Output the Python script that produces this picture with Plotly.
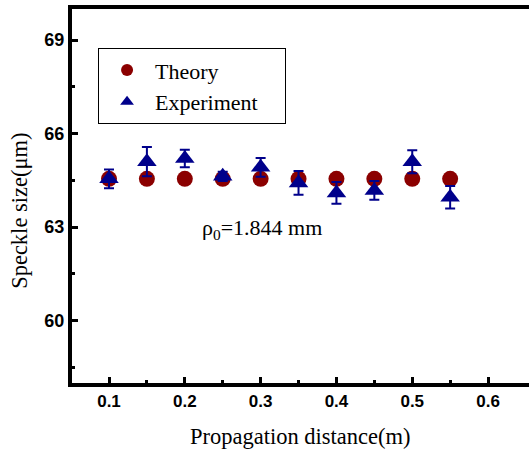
import plotly.graph_objects as go

distance = [0.10, 0.15, 0.20, 0.25, 0.30, 0.35, 0.40, 0.45, 0.50, 0.55]
theory = [64.55, 64.55, 64.55, 64.55, 64.55, 64.55, 64.55, 64.55, 64.55, 64.55]
experiment = [64.55, 65.10, 65.20, 64.63, 64.92, 64.42, 64.10, 64.18, 65.10, 63.96]
exp_err = [0.30, 0.47, 0.28, 0.15, 0.30, 0.38, 0.35, 0.30, 0.37, 0.36]

x_ticks = [0.1, 0.2, 0.3, 0.4, 0.5, 0.6]
x_minor = [0.15, 0.25, 0.35, 0.45, 0.55]
y_ticks = [60, 63, 66, 69]
y_minor = [58.5, 61.5, 64.5, 67.5]

serif = "Liberation Serif, Times New Roman, serif"
sans = "Liberation Sans, Arial, sans-serif"

fig = go.Figure()
fig.add_trace(go.Scatter(
    x=distance, y=theory, mode="markers", name="Theory",
    marker=dict(symbol="circle", size=16, color="#8B0000"),
))
fig.add_trace(go.Scatter(
    x=distance, y=experiment, mode="markers", name="Experiment\u00a0\u00a0\u00a0\u00a0",
    marker=dict(symbol="triangle-up", size=17, color="#00008B"),
    error_y=dict(type="data", array=exp_err, color="#00008B", thickness=2, width=5),
))

fig.add_annotation(
    x=0.22, y=62.93, xref="x", yref="y", xanchor="left", yanchor="middle",
    text="ρ<sub>0</sub>=1.844 mm", showarrow=False,
    font=dict(family=serif, size=22, color="black"),
)
fig.add_annotation(
    x=0.5, y=-0.144, xref="paper", yref="paper", xanchor="center", yanchor="middle",
    text="Propagation distance(m)", showarrow=False,
    font=dict(family=serif, size=22.5, color="black"),
)
fig.add_annotation(
    x=-0.114, y=0.46, xref="paper", yref="paper", xanchor="center", yanchor="middle",
    text="Speckle size(μm)", showarrow=False, textangle=-90,
    font=dict(family=serif, size=22.5, color="black"),
)

fig.add_shape(
    type="rect", xref="paper", yref="paper", x0=0.996, x1=1.02, y0=0.005, y1=0.985,
    fillcolor="white", line=dict(width=0), layer="above",
)

fig.update_layout(
    width=529, height=450,
    margin=dict(l=72, r=0, t=9, b=67),
    paper_bgcolor="white", plot_bgcolor="white",
    showlegend=True,
    legend=dict(
        x=0.057, y=0.895, xanchor="left", yanchor="top",
        bordercolor="black", borderwidth=1, bgcolor="white",
        font=dict(family=serif, size=22, color="black"),
        itemsizing="constant", itemwidth=46, tracegroupgap=0,
    ),
    xaxis=dict(
        range=[0.0512, 0.654], tickvals=x_ticks, ticktext=[f"{v:.1f}" for v in x_ticks],
        ticks="inside", ticklen=6, tickwidth=3, tickcolor="black",
        minor=dict(tickvals=x_minor, ticks="inside", ticklen=3, tickwidth=3, tickcolor="black"),
        showline=True, linewidth=4, linecolor="black", mirror=True,
        showgrid=False, zeroline=False,
        tickfont=dict(family=sans, size=17, color="black", weight="bold"),
    ),
    yaxis=dict(
        range=[58, 70], tickvals=y_ticks,
        ticks="inside", ticklen=6, tickwidth=3, tickcolor="black",
        minor=dict(tickvals=y_minor, ticks="inside", ticklen=3, tickwidth=3, tickcolor="black"),
        showline=True, linewidth=4, linecolor="black", mirror=False,
        showgrid=False, zeroline=False,
        tickfont=dict(family=sans, size=18, color="black", weight="bold"),
    ),
)

fig.write_html("out.html")
